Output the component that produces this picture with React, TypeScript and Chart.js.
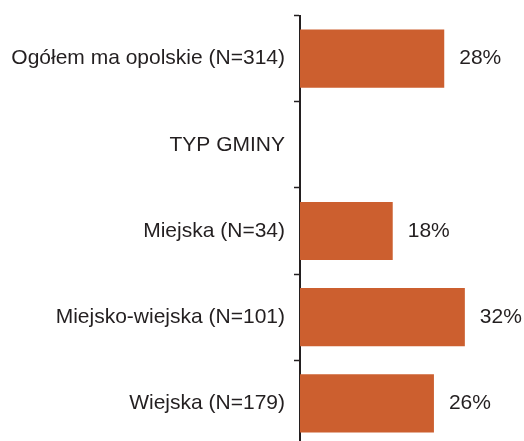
import React, { useEffect, useRef } from "react";
import { Chart, registerables } from "chart.js";

Chart.register(...registerables);

const categories = [
  "Ogółem ma opolskie (N=314)",
  "TYP GMINY",
  "Miejska (N=34)",
  "Miejsko-wiejska (N=101)",
  "Wiejska (N=179)",
];
const values: (number | null)[] = [28, null, 18, 32, 26];

const BAR_COLOR = "#CC5F2F";
const TEXT_COLOR = "#231F20";
const FONT = "'Liberation Sans', Arial, Helvetica, sans-serif";

const valueLabels = {
  id: "valueLabels",
  afterDatasetsDraw(chart: any) {
    const ctx = chart.ctx;
    const meta = chart.getDatasetMeta(0);
    ctx.save();
    ctx.fillStyle = TEXT_COLOR;
    ctx.font = `21px ${FONT}`;
    ctx.textAlign = "left";
    ctx.textBaseline = "middle";
    meta.data.forEach((bar: any, i: number) => {
      const v = values[i];
      if (v === null || v === undefined) return;
      ctx.fillText(`${v}%`, bar.x + 15, bar.y);
    });
    ctx.restore();
  },
};

export default function App() {
  const ref = useRef<HTMLCanvasElement | null>(null);
  useEffect(() => {
    if (!ref.current) return;
    const chart = new Chart(ref.current, {
      type: "bar",
      data: {
        labels: categories,
        datasets: [
          {
            data: values,
            backgroundColor: BAR_COLOR,
            borderWidth: 0,
            categoryPercentage: 1,
            barPercentage: 0.675,
          },
        ],
      },
      options: {
        indexAxis: "y",
        animation: false,
        responsive: false,
        maintainAspectRatio: false,
        layout: { padding: { top: 15.5, right: 20, bottom: 13.5, left: 0 } },
        plugins: { legend: { display: false }, tooltip: { enabled: false } },
        scales: {
          x: { display: false, min: 0, max: 39.6 },
          y: {
            afterFit(scale: any) {
              scale.width = 300;
              scale.paddingTop = 0;
              scale.paddingBottom = 0;
            },
            border: { display: true, color: TEXT_COLOR, width: 2 },
            grid: {
              display: true,
              drawOnChartArea: false,
              drawTicks: true,
              tickLength: 6,
              tickWidth: 1.5,
              tickColor: TEXT_COLOR,
              offset: true,
            },
            ticks: {
              color: TEXT_COLOR,
              padding: 9,
              font: { family: FONT, size: 21 },
            },
          },
        },
      },
      plugins: [valueLabels],
    });
    return () => chart.destroy();
  }, []);
  return (
    <div style={{ position: "fixed", left: 0, top: 0, width: 524, height: 460, background: "#fff" }}>
      <canvas ref={ref} width={524} height={460} style={{ width: 524, height: 460 }} />
    </div>
  );
}
